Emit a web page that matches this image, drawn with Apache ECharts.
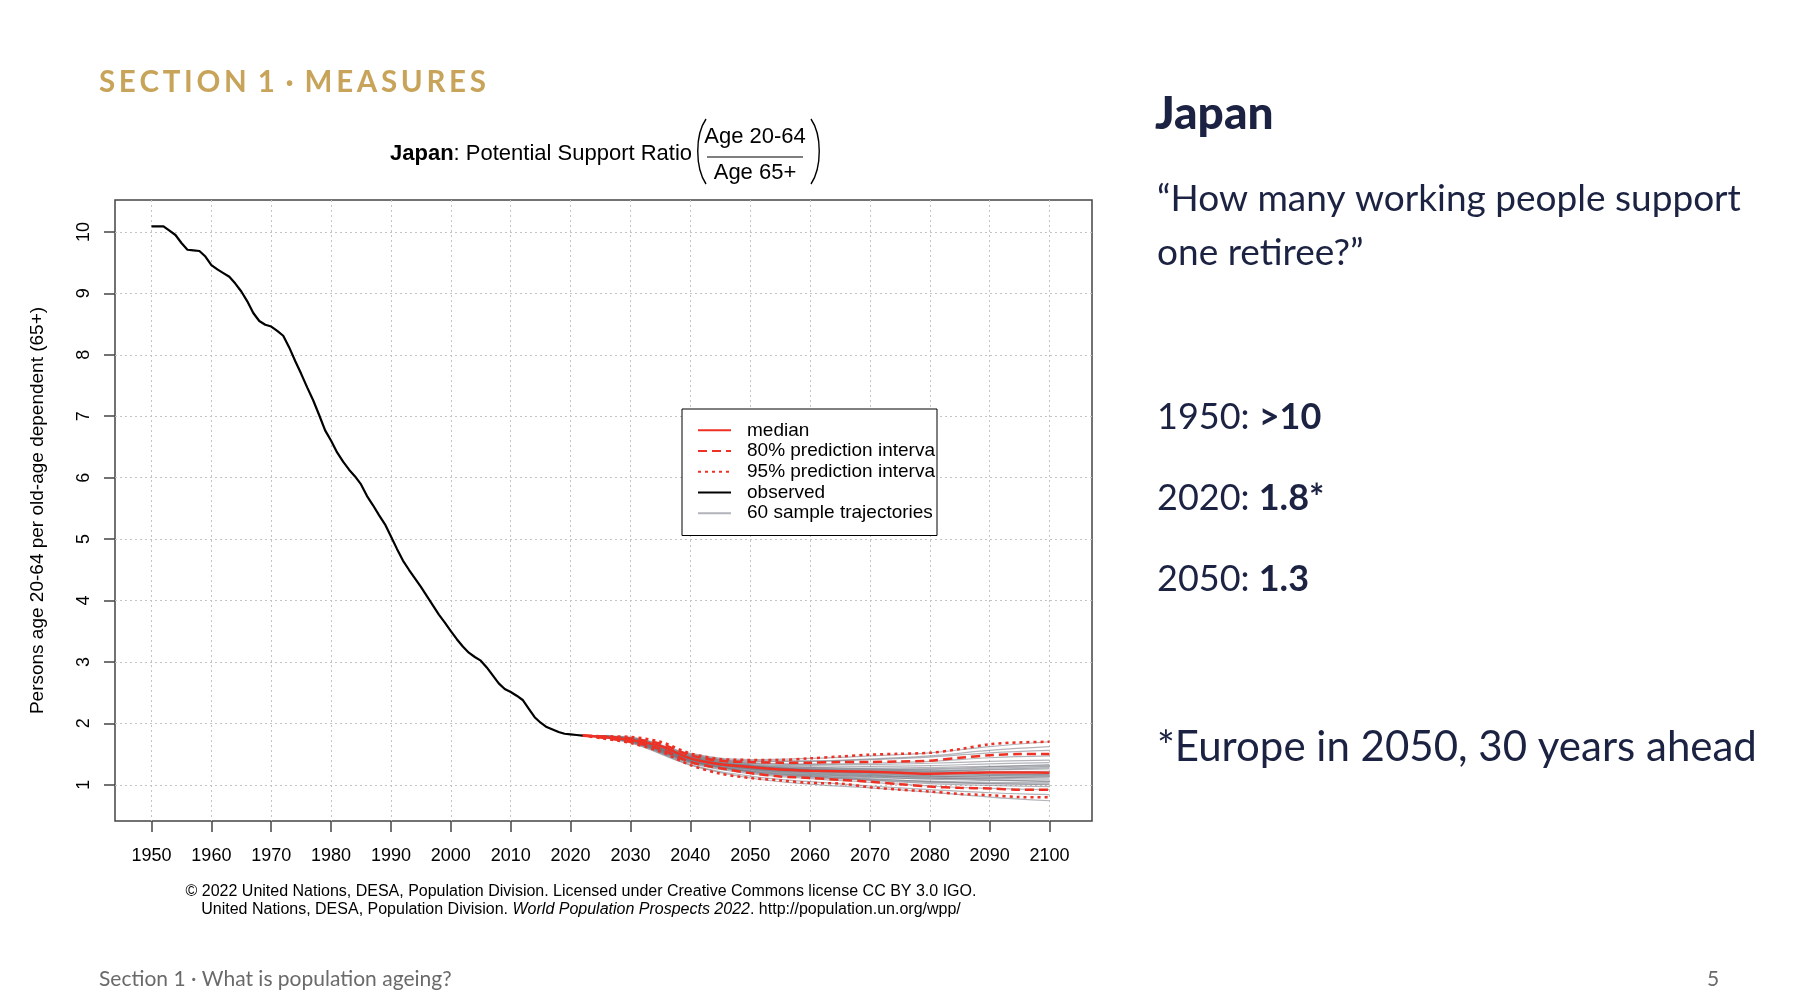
<!DOCTYPE html>
<html lang="en">
<head>
  <meta charset="UTF-8">
  <title>Japan: Potential Support Ratio</title>
  <style>
    html, body { margin: 0; padding: 0; background: #fff; }
    #chart { width: 1800px; height: 1008px; }
  </style>
  <script src="https://cdn.jsdelivr.net/npm/echarts@6.0.0/dist/echarts.min.js"></script>
</head>
<body>
  <div id="chart"></div>
  <script>
    // observed ratio, 1950-2022
    const obsYears = [];
    for (let y = 1950; y <= 2022; y++) obsYears.push(y);
    const observed = [
      10.09, 10.09, 10.09, 10.02, 9.95, 9.82, 9.71, 9.70, 9.69, 9.60,
      9.46, 9.39, 9.33, 9.27, 9.16, 9.03, 8.87, 8.68, 8.55, 8.49,
      8.46, 8.39, 8.31, 8.12, 7.90, 7.69, 7.47, 7.26, 7.02, 6.77,
      6.60, 6.41, 6.26, 6.13, 6.02, 5.89, 5.70, 5.55, 5.39, 5.24,
      5.04, 4.84, 4.65, 4.50, 4.36, 4.22, 4.07, 3.92, 3.77, 3.64,
      3.50, 3.37, 3.25, 3.15, 3.08, 3.02, 2.91, 2.78, 2.65, 2.56,
      2.51, 2.45, 2.38, 2.24, 2.10, 2.01, 1.94, 1.90, 1.86, 1.83,
      1.82, 1.81, 1.80
    ];

    // projection (median and intervals)
    const projYears = [2022, 2025, 2030, 2035, 2040, 2045, 2050, 2055, 2060, 2065, 2070, 2075, 2080, 2085, 2090, 2095, 2100];
    const median  = [1.80, 1.78, 1.73, 1.63, 1.43, 1.335, 1.29, 1.25, 1.23, 1.22, 1.21, 1.195, 1.18, 1.19, 1.20, 1.20, 1.195];
    const upper80 = [1.80, 1.785, 1.75, 1.67, 1.48, 1.39, 1.37, 1.36, 1.36, 1.37, 1.37, 1.38, 1.39, 1.44, 1.48, 1.50, 1.50];
    const lower80 = [1.80, 1.77, 1.70, 1.58, 1.37, 1.27, 1.19, 1.135, 1.11, 1.08, 1.05, 1.01, 0.97, 0.95, 0.94, 0.92, 0.92];
    const upper95 = [1.80, 1.79, 1.78, 1.70, 1.51, 1.42, 1.405, 1.405, 1.43, 1.46, 1.49, 1.505, 1.52, 1.58, 1.66, 1.69, 1.70];
    const lower95 = [1.80, 1.76, 1.68, 1.54, 1.32, 1.18, 1.11, 1.07, 1.03, 1.02, 0.96, 0.92, 0.89, 0.85, 0.83, 0.80, 0.795];

    // sample trajectories
    const trajYears = [2022, 2030, 2040, 2050, 2060, 2070, 2080, 2090, 2100];
    const trajectories = [
      [1.80, 1.74, 1.44, 1.30, 1.25, 1.22, 1.20, 1.21, 1.22],
      [1.80, 1.72, 1.41, 1.26, 1.20, 1.16, 1.12, 1.10, 1.09],
      [1.80, 1.75, 1.47, 1.35, 1.33, 1.33, 1.35, 1.38, 1.40],
      [1.80, 1.71, 1.38, 1.22, 1.15, 1.10, 1.05, 1.02, 1.00],
      [1.80, 1.76, 1.49, 1.38, 1.38, 1.41, 1.45, 1.52, 1.56],
      [1.80, 1.73, 1.42, 1.28, 1.23, 1.21, 1.22, 1.25, 1.28],
      [1.80, 1.70, 1.35, 1.18, 1.10, 1.04, 0.98, 0.94, 0.92],
      [1.80, 1.74, 1.45, 1.32, 1.28, 1.27, 1.28, 1.30, 1.31],
      [1.80, 1.72, 1.40, 1.25, 1.18, 1.14, 1.13, 1.15, 1.17],
      [1.80, 1.77, 1.51, 1.41, 1.43, 1.47, 1.52, 1.62, 1.70],
      [1.80, 1.69, 1.33, 1.14, 1.05, 0.98, 0.92, 0.87, 0.84],
      [1.80, 1.73, 1.43, 1.29, 1.22, 1.18, 1.15, 1.14, 1.13],
      [1.80, 1.75, 1.46, 1.33, 1.29, 1.26, 1.25, 1.27, 1.30],
      [1.80, 1.71, 1.39, 1.24, 1.17, 1.13, 1.09, 1.07, 1.06],
      [1.80, 1.74, 1.44, 1.31, 1.27, 1.25, 1.26, 1.29, 1.33],
      [1.80, 1.72, 1.41, 1.27, 1.21, 1.17, 1.14, 1.12, 1.11],
      [1.80, 1.76, 1.48, 1.36, 1.34, 1.35, 1.38, 1.44, 1.47],
      [1.80, 1.70, 1.36, 1.20, 1.12, 1.07, 1.02, 0.99, 0.97],
      [1.80, 1.73, 1.42, 1.30, 1.26, 1.24, 1.22, 1.20, 1.19],
      [1.80, 1.68, 1.32, 1.11, 1.01, 0.95, 0.88, 0.80, 0.74],
      [1.80, 1.74, 1.45, 1.31, 1.24, 1.20, 1.19, 1.20, 1.20],
      [1.80, 1.72, 1.40, 1.26, 1.19, 1.15, 1.11, 1.08, 1.05],
      [1.80, 1.75, 1.47, 1.34, 1.31, 1.30, 1.31, 1.34, 1.36],
      [1.80, 1.71, 1.39, 1.23, 1.16, 1.12, 1.10, 1.11, 1.13],
      [1.80, 1.73, 1.43, 1.30, 1.25, 1.23, 1.23, 1.24, 1.26],
      [1.80, 1.77, 1.50, 1.39, 1.39, 1.42, 1.47, 1.56, 1.62],
      [1.80, 1.70, 1.37, 1.21, 1.13, 1.08, 1.04, 1.02, 1.01],
      [1.80, 1.73, 1.42, 1.27, 1.22, 1.19, 1.16, 1.16, 1.16],
      [1.80, 1.74, 1.44, 1.29, 1.24, 1.21, 1.18, 1.17, 1.15],
      [1.80, 1.71, 1.38, 1.22, 1.14, 1.09, 1.06, 1.04, 1.03]
    ];

    const xTicks = [1950, 1960, 1970, 1980, 1990, 2000, 2010, 2020, 2030, 2040, 2050, 2060, 2070, 2080, 2090, 2100];
    const yTicks = [1, 2, 3, 4, 5, 6, 7, 8, 9, 10];

    const RED = '#ee3124';
    const NAVY = '#1b2242';
    const chartFont = '"Liberation Sans", Arial, sans-serif';
    const slideFont = 'Lato, "Open Sans", sans-serif';

    const pair = (xs, ys) => xs.map((x, i) => [x, ys[i]]);

    const series = [];
    trajectories.forEach(t => {
      series.push({
        name: '60 sample trajectories', type: 'line', smooth: 0.4, symbol: 'none',
        data: pair(trajYears, t), z: 2,
        lineStyle: { color: 'rgba(115,118,130,0.55)', width: 1.2 }
      });
    });
    series.push(
      { name: '95% prediction interval', type: 'line', smooth: 0.3, symbol: 'none', z: 4,
        data: pair(projYears, upper95), lineStyle: { color: RED, width: 2.5, type: [3, 4] } },
      { name: '95% prediction interval', type: 'line', smooth: 0.3, symbol: 'none', z: 4,
        data: pair(projYears, lower95), lineStyle: { color: RED, width: 2.5, type: [3, 4] } },
      { name: '80% prediction interval', type: 'line', smooth: 0.3, symbol: 'none', z: 4,
        data: pair(projYears, upper80), lineStyle: { color: RED, width: 2.5, type: [9, 5] } },
      { name: '80% prediction interval', type: 'line', smooth: 0.3, symbol: 'none', z: 4,
        data: pair(projYears, lower80), lineStyle: { color: RED, width: 2.5, type: [9, 5] } },
      { name: 'median', type: 'line', smooth: 0.3, symbol: 'none', z: 5,
        data: pair(projYears, median), lineStyle: { color: RED, width: 2.5 } },
      { name: 'observed', type: 'line', symbol: 'none', z: 5,
        data: pair(obsYears, observed), lineStyle: { color: '#000', width: 2.2 } }
    );

    const chart = echarts.init(document.getElementById('chart'));
    chart.setOption({
      animation: false,
      backgroundColor: '#fff',
      grid: {
        left: 115, top: 200, width: 977, height: 621,
        show: true, borderColor: '#444', borderWidth: 1.5, backgroundColor: 'transparent'
      },
      legend: {
        data: ['median', '80% prediction interval', '95% prediction interval', 'observed', '60 sample trajectories'],
        orient: 'vertical', left: 682, top: 409,
        itemWidth: 33, itemHeight: 14, itemGap: 0,
        padding: [11, 0, 12, 15],
        backgroundColor: '#fff', borderColor: '#000', borderWidth: 1, borderRadius: 0,
        selectedMode: false, z: 10,
        itemStyle: { opacity: 0 },
        textStyle: {
          fontFamily: chartFont, fontSize: 19, color: '#000', lineHeight: 20.7,
          width: 190, overflow: 'truncate', ellipsis: '', padding: [0, 0, 0, 11]
        }
      },
      xAxis: {
        type: 'value', min: 1943.9, max: 2107.1,
        axisLine: { show: false },
        axisTick: { show: true, length: 11, customValues: xTicks, lineStyle: { color: '#444', width: 1.5 } },
        axisLabel: { customValues: xTicks, margin: 26, fontFamily: chartFont, fontSize: 18, color: '#000',
          formatter: v => String(v) },
        splitLine: { show: true, lineStyle: { color: '#c4c4c4', type: [2, 3], width: 1 } }
      },
      yAxis: {
        type: 'value', min: 0.41, max: 10.52,
        name: 'Persons age 20-64 per old-age dependent (65+)',
        nameLocation: 'middle', nameRotate: 90, nameGap: 68,
        nameTextStyle: { fontFamily: chartFont, fontSize: 19, color: '#000' },
        axisLine: { show: false },
        axisTick: { show: true, length: 11, customValues: yTicks, lineStyle: { color: '#444', width: 1.5 } },
        axisLabel: { customValues: yTicks, rotate: 90, margin: 22, fontFamily: chartFont, fontSize: 18, color: '#000' },
        splitLine: { show: true, lineStyle: { color: '#c4c4c4', type: [2, 3], width: 1 } }
      },
      series: series,
      graphic: [
        // slide header
        { type: 'text', left: 99, top: 67, style: {
            text: 'S\u2009E\u2009C\u2009T\u2009I\u2009O\u2009N\u2009 1\u2009 ·\u2009 M\u2009E\u2009A\u2009S\u2009U\u2009R\u2009E\u2009S',
            font: 'bold 29.5px ' + slideFont, fill: '#c8a45a' } },
        // chart title
        { type: 'text', left: 390, top: 143, style: {
            text: '{b|Japan}{r|: Potential Support Ratio}',
            rich: {
              b: { font: 'bold 22px ' + chartFont, fill: '#000' },
              r: { font: '22px ' + chartFont, fill: '#000' }
            } } },
        { type: 'text', x: 755, y: 137, style: { text: 'Age 20-64', font: '22px ' + chartFont, fill: '#000', align: 'center', verticalAlign: 'middle' } },
        { type: 'text', x: 755, y: 173, style: { text: 'Age 65+', font: '22px ' + chartFont, fill: '#000', align: 'center', verticalAlign: 'middle' } },
        { type: 'line', shape: { x1: 707, y1: 157, x2: 803, y2: 157 }, style: { stroke: '#000', lineWidth: 1.2 } },
        { type: 'bezierCurve', shape: { x1: 706, y1: 119, cpx1: 695, cpy1: 135, cpx2: 695, cpy2: 167, x2: 706, y2: 184 }, style: { stroke: '#000', lineWidth: 1.4, fill: null } },
        { type: 'bezierCurve', shape: { x1: 811, y1: 119, cpx1: 822, cpy1: 135, cpx2: 822, cpy2: 167, x2: 811, y2: 184 }, style: { stroke: '#000', lineWidth: 1.4, fill: null } },
        // source note
        { type: 'text', x: 581, y: 892, style: {
            text: '© 2022 United Nations, DESA, Population Division. Licensed under Creative Commons license CC BY 3.0 IGO.',
            font: '16px ' + chartFont, fill: '#000', align: 'center', verticalAlign: 'middle' } },
        { type: 'text', x: 581, y: 910, style: {
            text: '{a|United Nations, DESA, Population Division. }{i|World Population Prospects 2022}{a|. http://population.un.org/wpp/}',
            rich: {
              a: { font: '16px ' + chartFont, fill: '#000' },
              i: { font: 'italic 16px ' + chartFont, fill: '#000' }
            },
            align: 'center', verticalAlign: 'middle' } },
        // right-hand text
        { type: 'text', left: 1155, top: 91, style: { text: 'Japan', font: '900 46px ' + slideFont, fill: NAVY } },
        { type: 'text', left: 1157, top: 181, style: { text: '\u201CHow many working people support', font: '37px ' + slideFont, fill: NAVY } },
        { type: 'text', left: 1157, top: 235, style: { text: 'one retiree?\u201D', font: '37px ' + slideFont, fill: NAVY } },
        { type: 'text', left: 1157, top: 399, style: {
            text: '{r|1950: }{b|>10}',
            rich: { r: { font: '36px ' + slideFont, fill: NAVY }, b: { font: 'bold 36px ' + slideFont, fill: NAVY } } } },
        { type: 'text', left: 1157, top: 480, style: {
            text: '{r|2020: }{b|1.8*}',
            rich: { r: { font: '36px ' + slideFont, fill: NAVY }, b: { font: 'bold 36px ' + slideFont, fill: NAVY } } } },
        { type: 'text', left: 1157, top: 561, style: {
            text: '{r|2050: }{b|1.3}',
            rich: { r: { font: '36px ' + slideFont, fill: NAVY }, b: { font: 'bold 36px ' + slideFont, fill: NAVY } } } },
        { type: 'text', left: 1157, top: 726, style: { text: '*Europe in 2050, 30 years ahead', font: '42px ' + slideFont, fill: NAVY } },
        // footer
        { type: 'text', left: 99, top: 969, style: { text: 'Section 1 · What is population ageing?', font: '21px ' + slideFont, fill: '#6a6a6a' } },
        { type: 'text', left: 1707, top: 969, style: { text: '5', font: '21px ' + slideFont, fill: '#6a6a6a' } }
      ]
    });
  </script>
</body>
</html>
